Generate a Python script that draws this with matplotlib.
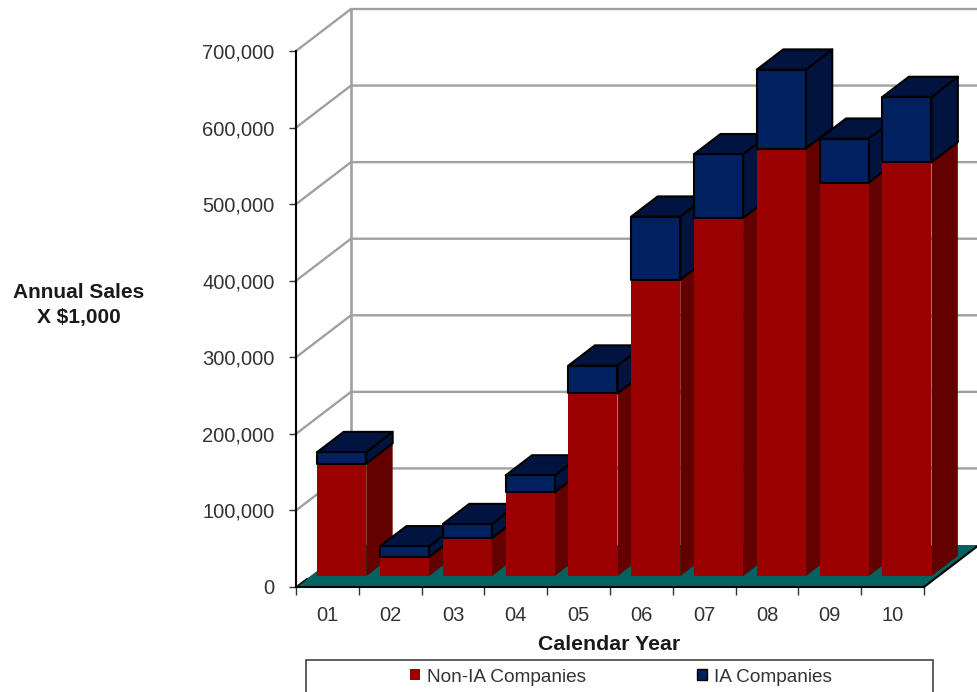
import matplotlib
matplotlib.use("Agg")
import matplotlib.pyplot as plt
from matplotlib.patches import Polygon, Rectangle, Patch
from matplotlib.transforms import Affine2D

plt.rcParams['font.family'] = ['Liberation Sans', 'DejaVu Sans']

years = ['01', '02', '03', '04', '05', '06', '07', '08', '09', '10']
non_ia = [147000, 25000, 49500, 109500, 238500, 387000, 467700, 558300, 513800, 540400]
ia = [15000, 14000, 18500, 22000, 36500, 82500, 83300, 103200, 57500, 85400]
y_ticks = [0, 100000, 200000, 300000, 400000, 500000, 600000, 700000]

W, H = 978, 692
RED, RED_S = '#990000', '#620000'
BLUE, BLUE_S = '#002060', '#00143F'
TEAL, GRID = '#006360', '#A0A0A0'
TEXT = '#333333'

fig = plt.figure(figsize=(W / 100, H / 100), dpi=100, facecolor='white')
ax = fig.add_axes([296 / W, (H - 587) / H, (924 - 296) / W, (587 - 51) / H])
ax.set_xlim(0, 10)
ax.set_ylim(0, 700000)
ax.patch.set_visible(False)

DX = 55 / 62.8          # depth of the chart box, x data units
DY = 42 / 536 * 700000  # depth of the chart box, y data units
D0, D1 = 0.26, 0.74     # bar depth range
GAP, BW = 0.111, 0.78   # bar position inside its category


def pt(x, y, d=0.0):
    return (x + DX * d, y + DY * d)


def poly(points, **kw):
    kw.setdefault('clip_on', False)
    kw.setdefault('joinstyle', 'round')
    ax.add_patch(Polygon(points, closed=True, **kw))


# walls and grid
for v in y_ticks[1:]:
    ax.plot(*zip(pt(0, v, 0), pt(0, v, 1), pt(10, v, 1)), color=GRID, lw=1.7,
            clip_on=False, zorder=1, solid_joinstyle='miter')
ax.plot(*zip(pt(0, 0, 1), pt(0, 700000, 1)), color=GRID, lw=1.9, clip_on=False, zorder=1)
ax.plot(*zip(pt(10, 0, 1), pt(10, 700000, 1)), color='#C8C8C8', lw=1.2, clip_on=False, zorder=1)

# floor
poly([pt(0, 0, 0), pt(10, 0, 0), pt(10, 0, 1), pt(0, 0, 1)],
     facecolor=TEAL, edgecolor='none', zorder=2)
ax.plot(*zip(pt(10, 0, 0), pt(10, 0, 1)), color='black', lw=1.5, clip_on=False, zorder=2.1)
ax.plot(*zip(pt(0, 0, 0), pt(0, 0, 0.2)), color='black', lw=1.0, clip_on=False, zorder=2.1)


def box(x0, x1, y0, y1, front, side, outline):
    kw = dict(edgecolor='black', linewidth=1.5) if outline else dict(edgecolor='none', linewidth=0)
    kw['zorder'] = 3
    poly([pt(x1, y0, D0), pt(x1, y0, D1), pt(x1, y1, D1), pt(x1, y1, D0)], facecolor=side, **kw)
    if outline:
        poly([pt(x0, y1, D0), pt(x1, y1, D0), pt(x1, y1, D1), pt(x0, y1, D1)], facecolor=side, **kw)
    poly([pt(x0, y0, D0), pt(x1, y0, D0), pt(x1, y1, D0), pt(x0, y1, D0)], facecolor=front, **kw)


for i, (a, b) in enumerate(zip(non_ia, ia)):
    x0, x1 = i + GAP, i + GAP + BW
    box(x0, x1, 0, a, RED, RED_S, False)
    box(x0, x1, a, a + b, BLUE, BLUE_S, True)

# axes
for s in ('top', 'right'):
    ax.spines[s].set_visible(False)
for s in ('left', 'bottom'):
    ax.spines[s].set_linewidth(1.5)
    ax.spines[s].set_color('black')
    ax.spines[s].set_zorder(5)
ax.set_yticks(y_ticks)
ax.set_yticklabels([f'{v:,}' for v in y_ticks])
ax.tick_params(axis='y', length=5, width=1, pad=10.5, labelsize=14.5, labelcolor=TEXT, color='#333333')
ax.set_xticks(range(len(years) + 1))
ax.set_xticklabels([])
ax.tick_params(axis='x', which='major', length=5.5, width=1, color='#333333')
ax.set_xticks([i + 0.5 for i in range(len(years))], minor=True)
ax.set_xticklabels(years, minor=True)
ax.tick_params(axis='x', which='minor', length=0, pad=14, labelsize=14.5, labelcolor=TEXT)

# titles
px = Affine2D().scale(1 / W, -1 / H).translate(0, 1) + fig.transFigure
fig.text(609.5, 644, 'Calendar Year', transform=px, ha='center', va='center',
         fontsize=15.3, fontweight='bold', color='#1A1A1A')
fig.text(78.5, 305.5, 'Annual Sales\nX $1,000', transform=px, ha='center', va='center',
         fontsize=15, fontweight='bold', color='#1A1A1A', linespacing=1.4)

# legend
fig.add_artist(Rectangle((306, 660), 627, 60, transform=px, facecolor='white',
                         edgecolor='#444444', linewidth=1.2, clip_on=True))
leg = fig.legend(handles=[Patch(facecolor=RED, edgecolor='none', label='Non-IA Companies'),
                          Patch(facecolor=BLUE, edgecolor='black', linewidth=1, label='IA Companies')],
                 ncols=2, loc='center', bbox_to_anchor=(621, 677), bbox_transform=px, frameon=False,
                 fontsize=13.7, handlelength=0.53, handleheight=0.53, handletextpad=0.35,
                 columnspacing=5.85, borderpad=0, labelcolor=TEXT)

fig.savefig('out.png', dpi=100)
